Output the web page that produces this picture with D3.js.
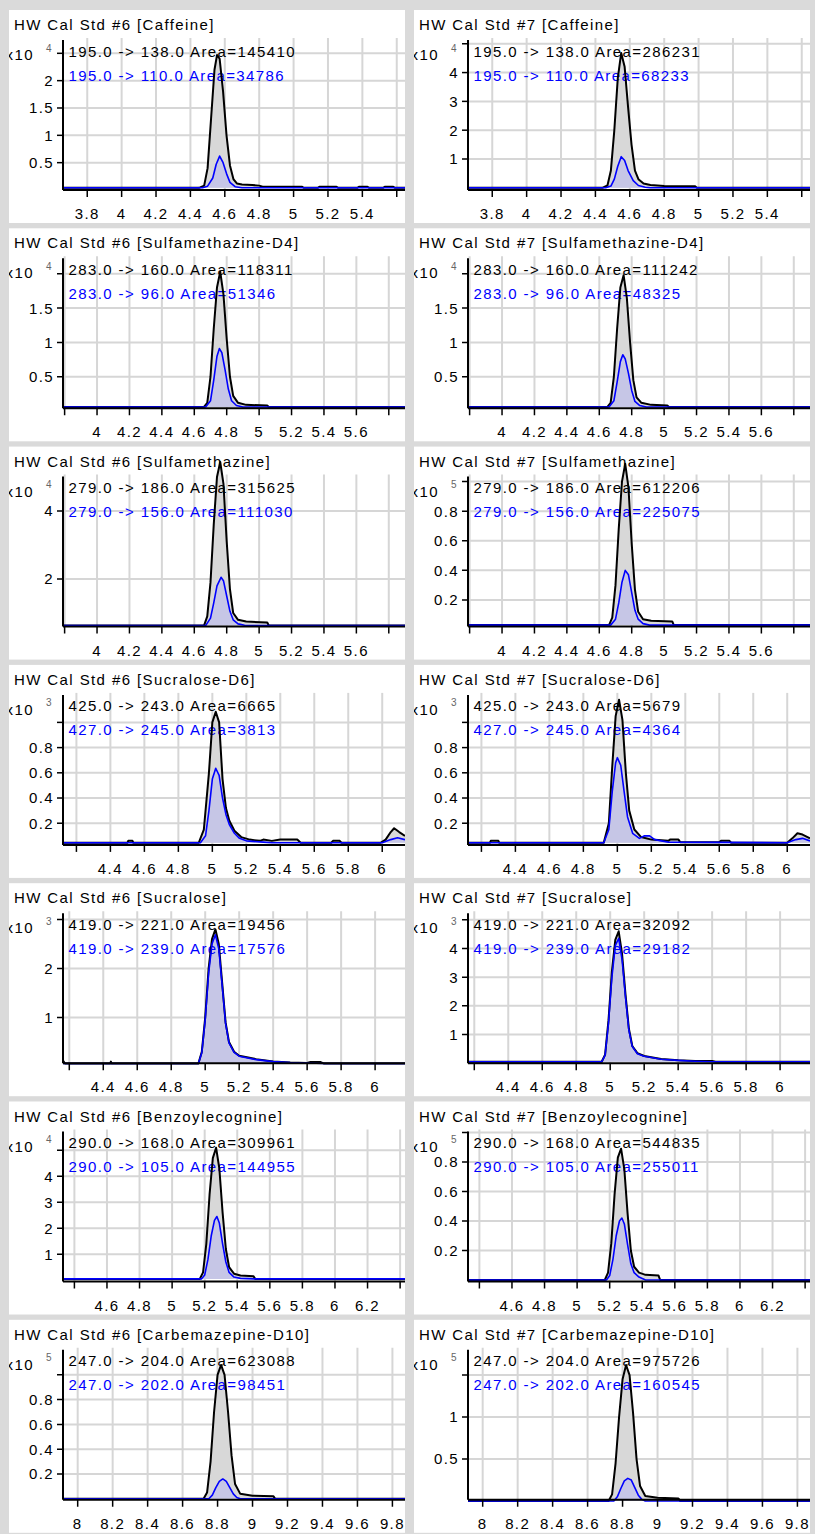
<!DOCTYPE html>
<html>
<head>
<meta charset="utf-8">
<script src="https://cdn.jsdelivr.net/npm/d3@7"></script>
<style>
  body { margin: 0; background: #fff; }
  text { font-family: "Liberation Sans", Arial, sans-serif; }
</style>
</head>
<body>
<svg></svg>
<script>
// page size
const width = 817, height = 1536;

// what is plotted in each row / column
const compounds = ['Caffeine', 'Sulfamethazine-D4', 'Sulfamethazine', 'Sucralose-D6', 'Sucralose', 'Benzoylecognine', 'Carbemazepine-D10'];
const runs = ['HW Cal Std #6', 'HW Cal Std #7'];
const quantMrm = ['195.0 -> 138.0', '283.0 -> 160.0', '279.0 -> 186.0', '425.0 -> 243.0', '419.0 -> 221.0', '290.0 -> 168.0', '247.0 -> 204.0'];
const qualMrm = ['195.0 -> 110.0', '283.0 -> 96.0', '279.0 -> 156.0', '427.0 -> 245.0', '419.0 -> 239.0', '290.0 -> 105.0', '247.0 -> 202.0'];
const quantArea = [[145410, 286231], [118311, 111242], [315625, 612206], [6665, 5679], [19456, 32092], [309961, 544835], [623088, 975726]];
const qualArea = [[34786, 68233], [51346, 48325], [111030, 225075], [3813, 4364], [17576, 29182], [144955, 255011], [98451, 160545]];
const exponent = [[4, 4], [4, 4], [4, 5], [3, 3], [3, 3], [4, 5], [5, 5]];

// retention time axis (min), per row
const rtDomain = [[3.659, 5.648], [3.79, 5.90], [3.79, 5.90], [4.121, 6.134], [4.163, 6.176], [4.33, 6.43], [7.916, 9.872]];
const rtTicks = [
  [3.8, 4, 4.2, 4.4, 4.6, 4.8, 5, 5.2, 5.4, 5.6],
  [3.8, 4, 4.2, 4.4, 4.6, 4.8, 5, 5.2, 5.4, 5.6, 5.8],
  [3.8, 4, 4.2, 4.4, 4.6, 4.8, 5, 5.2, 5.4, 5.6, 5.8],
  [4.2, 4.4, 4.6, 4.8, 5, 5.2, 5.4, 5.6, 5.8, 6],
  [4.2, 4.4, 4.6, 4.8, 5, 5.2, 5.4, 5.6, 5.8, 6],
  [4.4, 4.6, 4.8, 5, 5.2, 5.4, 5.6, 5.8, 6, 6.2, 6.4],
  [8, 8.2, 8.4, 8.6, 8.8, 9, 9.2, 9.4, 9.6, 9.8]
];
const rtLabels = [
  [3.8, 4, 4.2, 4.4, 4.6, 4.8, 5, 5.2, 5.4],
  [4, 4.2, 4.4, 4.6, 4.8, 5, 5.2, 5.4, 5.6],
  [4, 4.2, 4.4, 4.6, 4.8, 5, 5.2, 5.4, 5.6],
  [4.4, 4.6, 4.8, 5, 5.2, 5.4, 5.6, 5.8, 6],
  [4.4, 4.6, 4.8, 5, 5.2, 5.4, 5.6, 5.8, 6],
  [4.6, 4.8, 5, 5.2, 5.4, 5.6, 5.8, 6, 6.2],
  [8, 8.2, 8.4, 8.6, 8.8, 9, 9.2, 9.4, 9.6, 9.8]
];

// intensity axis (x10^exponent), per panel [#6, #7]
const intDomain = [
  [[0, 2.78], [-0.076, 5.2]],
  [[0.04, 2.255], [0.04, 2.255]],
  [[0.6, 5.07], [0.02, 1.047]],
  [[0.028, 1.234], [0.028, 1.234]],
  [[0.067, 3.17], [0, 5.3]],
  [[-0.05, 5.8], [-0.01, 1.02]],
  [[-0.008, 1.218], [0.015, 1.825]]
];
// labelled ticks
const intTicks = [
  [[0.5, 1, 1.5, 2], [1, 2, 3, 4]],
  [[0.5, 1, 1.5], [0.5, 1, 1.5]],
  [[2, 4], [0.2, 0.4, 0.6, 0.8]],
  [[0.2, 0.4, 0.6, 0.8], [0.2, 0.4, 0.6, 0.8]],
  [[1, 2], [1, 2, 3, 4]],
  [[1, 2, 3, 4], [0.2, 0.4, 0.6, 0.8]],
  [[0.2, 0.4, 0.6, 0.8], [0.5, 1]]
];
// unlabelled tick under the exponent
const intTopTick = [
  [2.5, 5],
  [2, 2],
  [null, 1],
  [1, 1],
  [3, 5],
  [5, 1],
  [1, 1.5]
];

// quantifier traces [rt, intensity]
const quantTrace = [
  [
    [[3.659, 0.04], [4.45, 0.04], [4.48, 0.08], [4.50, 0.4], [4.52, 1.3], [4.54, 2.2], [4.555, 2.47], [4.57, 2.4], [4.59, 1.8], [4.61, 1.0], [4.63, 0.45], [4.65, 0.2], [4.67, 0.12], [4.70, 0.1], [4.76, 0.09], [4.80, 0.08], [4.82, 0.06], [5.05, 0.06], [5.06, 0.04], [5.14, 0.04], [5.15, 0.06], [5.25, 0.06], [5.26, 0.04], [5.37, 0.04], [5.38, 0.06], [5.43, 0.06], [5.44, 0.04], [5.52, 0.04], [5.53, 0.06], [5.58, 0.06], [5.59, 0.04], [5.648, 0.04]],
    [[3.659, 0], [4.44, 0], [4.47, 0.08], [4.49, 0.6], [4.51, 2.0], [4.53, 3.8], [4.55, 4.68], [4.57, 4.2], [4.59, 2.8], [4.61, 1.5], [4.63, 0.6], [4.65, 0.3], [4.68, 0.15], [4.72, 0.1], [4.76, 0.08], [4.80, 0.06], [4.98, 0.05], [4.99, 0], [5.648, 0]]
  ],
  [
    [[3.79, 0.06], [4.66, 0.06], [4.68, 0.12], [4.70, 0.5], [4.72, 1.2], [4.74, 1.8], [4.76, 2.03], [4.78, 1.7], [4.80, 1.05], [4.82, 0.5], [4.84, 0.22], [4.87, 0.12], [4.92, 0.09], [5.05, 0.08], [5.06, 0.06], [5.9, 0.06]],
    [[3.79, 0.06], [4.65, 0.06], [4.67, 0.12], [4.69, 0.5], [4.71, 1.2], [4.73, 1.8], [4.75, 1.98], [4.77, 1.65], [4.79, 1.0], [4.81, 0.45], [4.83, 0.2], [4.86, 0.12], [4.92, 0.09], [5.02, 0.08], [5.03, 0.06], [5.9, 0.06]]
  ],
  [
    [[3.79, 0.63], [4.66, 0.63], [4.68, 0.9], [4.70, 1.9], [4.72, 3.6], [4.74, 5.0], [4.76, 5.44], [4.78, 4.8], [4.80, 3.1], [4.82, 1.7], [4.84, 1.0], [4.87, 0.8], [4.92, 0.75], [5.05, 0.72], [5.06, 0.63], [5.9, 0.63]],
    [[3.79, 0.03], [4.66, 0.03], [4.68, 0.08], [4.70, 0.3], [4.72, 0.68], [4.74, 1.0], [4.76, 1.12], [4.78, 0.96], [4.80, 0.58], [4.82, 0.27], [4.84, 0.12], [4.87, 0.07], [4.92, 0.06], [5.05, 0.055], [5.06, 0.03], [5.9, 0.03]]
  ],
  [
    [[4.121, 0.045], [4.50, 0.045], [4.505, 0.06], [4.53, 0.06], [4.535, 0.045], [4.92, 0.045], [4.95, 0.15], [4.98, 0.6], [5.0, 1.0], [5.02, 1.085], [5.04, 1.0], [5.06, 0.55], [5.08, 0.32], [5.10, 0.22], [5.13, 0.14], [5.17, 0.09], [5.22, 0.07], [5.28, 0.06], [5.30, 0.07], [5.35, 0.06], [5.40, 0.07], [5.50, 0.07], [5.52, 0.045], [5.70, 0.045], [5.71, 0.06], [5.75, 0.06], [5.76, 0.045], [5.99, 0.045], [6.02, 0.07], [6.05, 0.13], [6.07, 0.16], [6.10, 0.13], [6.134, 0.1]],
    [[4.121, 0.045], [4.25, 0.045], [4.255, 0.06], [4.30, 0.06], [4.305, 0.045], [4.92, 0.045], [4.95, 0.2], [4.97, 0.65], [4.99, 1.05], [5.01, 1.18], [5.03, 1.02], [5.05, 0.6], [5.07, 0.3], [5.10, 0.15], [5.14, 0.09], [5.20, 0.07], [5.30, 0.06], [5.31, 0.07], [5.36, 0.07], [5.37, 0.05], [5.60, 0.05], [5.61, 0.06], [5.66, 0.06], [5.67, 0.045], [6.0, 0.045], [6.03, 0.08], [6.06, 0.12], [6.09, 0.11], [6.134, 0.08]]
  ],
  [
    [[4.163, 0.12], [4.175, 0.06], [4.44, 0.06], [4.445, 0.1], [4.45, 0.06], [4.96, 0.06], [4.98, 0.3], [5.0, 1.0], [5.02, 2.0], [5.04, 2.6], [5.06, 2.8], [5.08, 2.5], [5.10, 1.7], [5.12, 0.9], [5.14, 0.5], [5.17, 0.3], [5.20, 0.22], [5.30, 0.15], [5.40, 0.1], [5.50, 0.08], [5.60, 0.07], [5.62, 0.09], [5.68, 0.09], [5.70, 0.06], [6.176, 0.06]],
    [[4.163, 0.05], [4.95, 0.05], [4.97, 0.3], [4.99, 1.5], [5.01, 3.2], [5.03, 4.3], [5.05, 4.6], [5.07, 3.8], [5.09, 2.4], [5.11, 1.2], [5.13, 0.6], [5.16, 0.35], [5.20, 0.25], [5.30, 0.15], [5.40, 0.1], [5.50, 0.08], [5.60, 0.08], [5.62, 0.05], [6.176, 0.05]]
  ],
  [
    [[4.33, 0.05], [5.17, 0.05], [5.19, 0.3], [5.21, 1.4], [5.23, 3.3], [5.25, 4.7], [5.27, 5.1], [5.29, 4.3], [5.31, 2.6], [5.33, 1.2], [5.35, 0.5], [5.38, 0.25], [5.42, 0.18], [5.50, 0.15], [5.51, 0.05], [6.43, 0.05]],
    [[4.33, 0], [5.17, 0], [5.19, 0.05], [5.21, 0.25], [5.23, 0.58], [5.25, 0.83], [5.27, 0.89], [5.29, 0.75], [5.31, 0.45], [5.33, 0.2], [5.35, 0.09], [5.38, 0.05], [5.42, 0.035], [5.50, 0.03], [5.51, 0], [6.43, 0]]
  ],
  [
    [[7.916, 0], [8.72, 0], [8.74, 0.05], [8.76, 0.3], [8.78, 0.7], [8.80, 1.0], [8.82, 1.08], [8.84, 1.0], [8.86, 0.7], [8.88, 0.35], [8.90, 0.12], [8.93, 0.04], [9.0, 0.025], [9.12, 0.02], [9.13, 0], [9.872, 0]],
    [[7.916, 0], [8.72, 0], [8.74, 0.08], [8.76, 0.45], [8.78, 1.0], [8.80, 1.45], [8.82, 1.62], [8.84, 1.5], [8.86, 1.05], [8.88, 0.5], [8.90, 0.18], [8.93, 0.06], [9.0, 0.04], [9.12, 0.03], [9.13, 0], [9.872, 0]]
  ]
];

// qualifier traces [rt, intensity]
const qualTrace = [
  [
    [[3.659, 0.04], [4.47, 0.04], [4.50, 0.07], [4.53, 0.22], [4.55, 0.47], [4.57, 0.62], [4.59, 0.5], [4.61, 0.3], [4.63, 0.14], [4.66, 0.06], [4.70, 0.04], [5.648, 0.04]],
    [[3.659, 0], [4.46, 0], [4.49, 0.06], [4.51, 0.3], [4.53, 0.75], [4.55, 1.08], [4.57, 0.95], [4.59, 0.6], [4.62, 0.25], [4.65, 0.08], [4.69, 0.02], [4.72, 0], [5.648, 0]]
  ],
  [
    [[3.79, 0.06], [4.67, 0.06], [4.70, 0.15], [4.72, 0.45], [4.74, 0.8], [4.755, 0.91], [4.77, 0.85], [4.79, 0.6], [4.81, 0.32], [4.83, 0.15], [4.86, 0.08], [4.90, 0.06], [5.9, 0.06]],
    [[3.79, 0.06], [4.66, 0.06], [4.69, 0.15], [4.71, 0.42], [4.73, 0.72], [4.745, 0.82], [4.76, 0.76], [4.78, 0.55], [4.80, 0.3], [4.82, 0.14], [4.85, 0.08], [4.89, 0.06], [5.9, 0.06]]
  ],
  [
    [[3.79, 0.63], [4.67, 0.63], [4.70, 0.85], [4.72, 1.3], [4.74, 1.8], [4.765, 2.05], [4.78, 1.95], [4.80, 1.5], [4.82, 1.05], [4.84, 0.8], [4.87, 0.68], [4.91, 0.64], [4.94, 0.63], [5.9, 0.63]],
    [[3.79, 0.03], [4.67, 0.03], [4.70, 0.07], [4.72, 0.18], [4.74, 0.32], [4.76, 0.4], [4.78, 0.37], [4.80, 0.25], [4.82, 0.13], [4.84, 0.07], [4.87, 0.04], [4.91, 0.03], [5.9, 0.03]]
  ],
  [
    [[4.121, 0.045], [4.93, 0.045], [4.96, 0.1], [4.98, 0.3], [5.0, 0.55], [5.02, 0.636], [5.04, 0.58], [5.06, 0.4], [5.08, 0.27], [5.10, 0.19], [5.13, 0.12], [5.16, 0.08], [5.20, 0.06], [5.30, 0.05], [5.35, 0.045], [6.0, 0.045], [6.05, 0.07], [6.09, 0.085], [6.134, 0.07]],
    [[4.121, 0.045], [4.92, 0.045], [4.95, 0.15], [4.97, 0.45], [4.99, 0.68], [5.0, 0.72], [5.02, 0.66], [5.04, 0.45], [5.06, 0.25], [5.09, 0.12], [5.13, 0.08], [5.16, 0.1], [5.19, 0.1], [5.22, 0.07], [5.30, 0.05], [6.0, 0.045], [6.05, 0.07], [6.09, 0.08], [6.134, 0.06]]
  ],
  [
    [[4.163, 0.06], [4.96, 0.06], [4.98, 0.28], [5.0, 0.95], [5.02, 1.9], [5.04, 2.5], [5.06, 2.69], [5.08, 2.4], [5.10, 1.65], [5.12, 0.88], [5.14, 0.48], [5.17, 0.29], [5.20, 0.21], [5.30, 0.14], [5.40, 0.1], [5.50, 0.08], [5.60, 0.07], [5.70, 0.06], [6.176, 0.06]],
    [[4.163, 0.05], [4.95, 0.05], [4.97, 0.28], [4.99, 1.4], [5.01, 3.0], [5.03, 4.1], [5.05, 4.35], [5.07, 3.6], [5.09, 2.3], [5.11, 1.15], [5.13, 0.58], [5.16, 0.33], [5.20, 0.24], [5.30, 0.14], [5.40, 0.1], [5.50, 0.07], [5.60, 0.05], [6.176, 0.05]]
  ],
  [
    [[4.33, 0.05], [5.18, 0.05], [5.20, 0.2], [5.22, 0.8], [5.24, 1.7], [5.26, 2.3], [5.275, 2.45], [5.29, 2.2], [5.31, 1.4], [5.33, 0.7], [5.35, 0.3], [5.38, 0.12], [5.42, 0.07], [5.50, 0.05], [6.43, 0.05]],
    [[4.33, 0], [5.18, 0], [5.20, 0.03], [5.22, 0.14], [5.24, 0.3], [5.26, 0.4], [5.275, 0.42], [5.29, 0.38], [5.31, 0.24], [5.33, 0.11], [5.35, 0.05], [5.38, 0.02], [5.42, 0], [6.43, 0]]
  ],
  [
    [[7.916, 0], [8.75, 0], [8.77, 0.03], [8.79, 0.09], [8.81, 0.14], [8.83, 0.16], [8.85, 0.14], [8.87, 0.09], [8.89, 0.04], [8.91, 0.01], [8.93, 0], [9.872, 0]],
    [[7.916, 0], [8.75, 0], [8.77, 0.05], [8.79, 0.15], [8.81, 0.24], [8.83, 0.27], [8.85, 0.25], [8.87, 0.16], [8.89, 0.07], [8.91, 0.02], [8.93, 0], [9.872, 0]]
  ]
];

// layout
const colX = [9, 414];
const rowY0 = 10, rowPitch = 218.3;
const panelW = 396, panelH = 213;
const plotL = 54, plotT = 28, plotB = 180;
const fontSize = 15, spacing = 1.4;

const svg = d3.select('svg').attr('width', width).attr('height', height);

// grey window frame behind the panels
svg.append('rect')
    .attr('x', 0).attr('y', 0)
    .attr('width', 815).attr('height', 1534)
    .attr('fill', '#dadada');

const fmt = d3.format('~g');

compounds.forEach((compound, r) => {
    runs.forEach((run, c) => {
        const g = svg.append('g')
            .attr('transform', `translate(${colX[c]},${rowY0 + r * rowPitch})`);

        const clipId = `clip-${r}-${c}`;
        g.append('clipPath').attr('id', clipId)
            .append('rect').attr('width', panelW).attr('height', panelH);

        g.append('rect')
            .attr('width', panelW).attr('height', panelH)
            .attr('fill', '#fff');

        const inner = g.append('g').attr('clip-path', `url(#${clipId})`);

        const x = d3.scaleLinear().domain(rtDomain[r]).range([plotL, panelW]);
        const y = d3.scaleLinear().domain(intDomain[r][c]).range([plotB, plotT]);

        const yTicks = intTicks[r][c].slice();
        if (intTopTick[r][c] !== null) yTicks.push(intTopTick[r][c]);

        // grid
        inner.selectAll('line.vgrid')
            .data(rtTicks[r])
            .enter().append('line')
            .attr('x1', d => x(d)).attr('x2', d => x(d))
            .attr('y1', plotT).attr('y2', plotB)
            .attr('stroke', '#d6d6d6').attr('stroke-width', 2);
        inner.selectAll('line.hgrid')
            .data(yTicks)
            .enter().append('line')
            .attr('x1', plotL).attr('x2', panelW)
            .attr('y1', d => y(d)).attr('y2', d => y(d))
            .attr('stroke', '#d6d6d6').attr('stroke-width', 2);

        // filled peaks
        const quant = quantTrace[r][c];
        const qual = qualTrace[r][c];
        const base1 = d3.min(quant, d => d[1]);
        const base2 = d3.min(qual, d => d[1]);
        const area1 = d3.area().x(d => x(d[0])).y0(y(base1)).y1(d => y(d[1]));
        const area2 = d3.area().x(d => x(d[0])).y0(y(base2)).y1(d => y(d[1]));
        const line = d3.line().x(d => x(d[0])).y(d => y(d[1]));

        inner.append('path').attr('d', area1(quant)).attr('fill', '#d8d8d8');
        inner.append('path').attr('d', area2(qual)).attr('fill', '#c6c6e6');

        // titles and labels
        const label = (tx, ty, str, color) => inner.append('text')
            .attr('x', tx).attr('y', ty)
            .attr('font-size', fontSize).attr('letter-spacing', spacing)
            .attr('fill', color || '#000')
            .text(str);
        label(5, 20, `${run} [${compound}]`);
        label(59.5, 46.5, `${quantMrm[r]} Area=${quantArea[r][c]}`);
        label(59.5, 70.5, `${qualMrm[r]} Area=${qualArea[r][c]}`, '#0000ff');
        label(25, 50, 'x10').attr('text-anchor', 'end');
        inner.append('text')
            .attr('x', 37).attr('y', 41.5)
            .attr('font-size', 10)
            .attr('fill', '#666')
            .text(exponent[r][c]);

        // traces
        inner.append('path').attr('d', line(quant))
            .attr('fill', 'none').attr('stroke', '#000').attr('stroke-width', 2)
            .attr('stroke-linejoin', 'round');
        inner.append('path').attr('d', line(qual))
            .attr('fill', 'none').attr('stroke', '#0000ff').attr('stroke-width', 1.6)
            .attr('stroke-linejoin', 'round');

        // y axis
        inner.append('line')
            .attr('x1', plotL).attr('x2', plotL)
            .attr('y1', plotT + 2).attr('y2', plotB)
            .attr('stroke', '#000').attr('stroke-width', 2);
        yTicks.forEach(v => {
            const yy = y(v);
            inner.append('line')
                .attr('x1', plotL - 6).attr('x2', plotL)
                .attr('y1', yy).attr('y2', yy)
                .attr('stroke', '#000').attr('stroke-width', 1.5);
        });
        intTicks[r][c].forEach(v => {
            label(plotL - 9, y(v), fmt(v))
                .attr('dy', '0.36em')
                .attr('text-anchor', 'end');
        });

        // x axis
        inner.append('line')
            .attr('x1', plotL).attr('x2', panelW)
            .attr('y1', plotB).attr('y2', plotB)
            .attr('stroke', '#000').attr('stroke-width', 2);
        rtTicks[r].forEach(v => {
            const xx = x(v);
            inner.append('line')
                .attr('x1', xx).attr('x2', xx)
                .attr('y1', plotB).attr('y2', plotB + 7)
                .attr('stroke', '#000').attr('stroke-width', 1.5);
        });
        rtLabels[r].forEach(v => {
            label(x(v), 209, fmt(v)).attr('text-anchor', 'middle');
        });
    });
});
</script>
</body>
</html>
